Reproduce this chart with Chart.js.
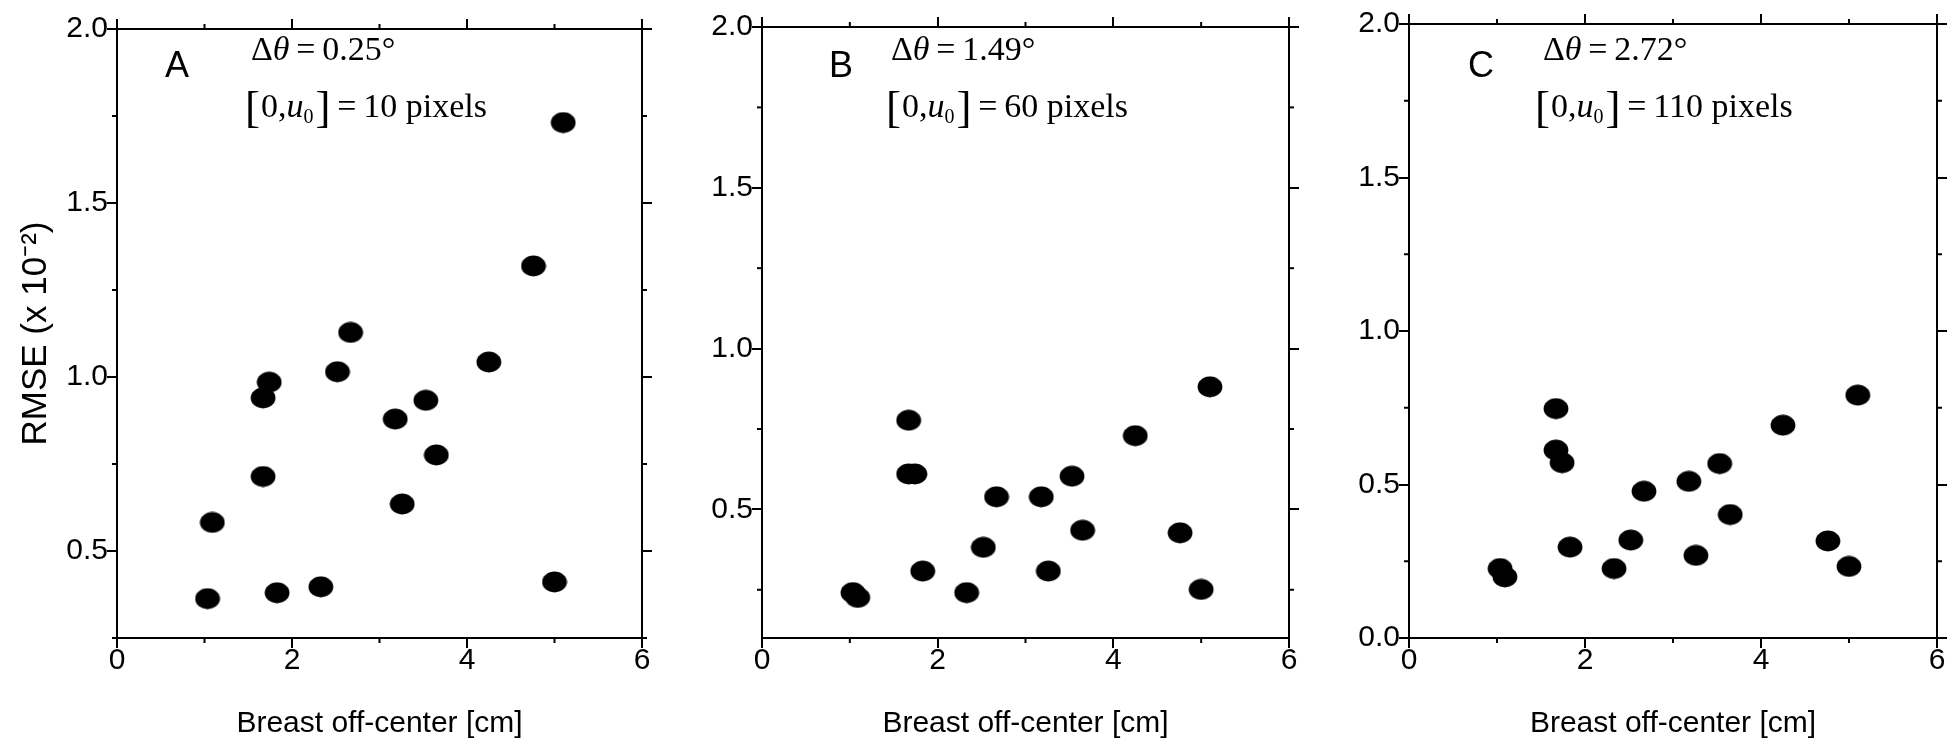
<!DOCTYPE html>
<html><head><meta charset="utf-8">
<script src="https://cdn.jsdelivr.net/npm/chart.js@4.4.1/dist/chart.umd.min.js"></script>
<style>
html,body{margin:0;padding:0;background:#fff;overflow:hidden;width:1956px;height:749px;}
.panel{position:absolute;top:0;height:749px;}
canvas{display:block;}
</style></head><body>
  <div class="panel" style="left:0px;width:660px"><canvas id="cA" width="660" height="749"></canvas></div>
  <div class="panel" style="left:660px;width:650px"><canvas id="cB" width="650" height="749"></canvas></div>
  <div class="panel" style="left:1310px;width:646px"><canvas id="cC" width="646" height="749"></canvas></div>
<script>
// ---- data ----
const OFF_CENTER_CM = [1.035, 1.09, 1.67, 1.67, 1.74, 1.83, 2.33, 2.52, 2.67, 3.18, 3.26, 3.53, 3.65, 4.25, 4.76, 5.00, 5.10];
const RMSE_A = [0.363, 0.582, 0.714, 0.940, 0.985, 0.380, 0.397, 1.015, 1.128, 0.879, 0.635, 0.933, 0.776, 1.043, 1.319, 0.411, 1.731];
const RMSE_B = [0.241, 0.226, 0.610, 0.777, 0.610, 0.308, 0.241, 0.382, 0.539, 0.539, 0.308, 0.603, 0.435, 0.729, 0.427, 0.251, 0.881];
const RMSE_C = [0.226, 0.199, 0.747, 0.612, 0.571, 0.296, 0.226, 0.319, 0.478, 0.510, 0.269, 0.568, 0.402, 0.693, 0.316, 0.233, 0.791];
const X_TICKS = [0, 1, 2, 3, 4, 5, 6];
const X_MAJOR_STEP = 2;
const Y_TICKS_A = [0.25, 0.5, 0.75, 1.0, 1.25, 1.5, 1.75, 2.0];
const Y_TICKS_B = [0.25, 0.5, 0.75, 1.0, 1.25, 1.5, 1.75, 2.0];
const Y_TICKS_C = [0, 0.25, 0.5, 0.75, 1.0, 1.25, 1.5, 1.75, 2.0];
const Y_MAJOR_STEP = 0.5;
const Y_RANGES = [[0.25, 2.0], [0.1, 2.0], [0.0, 2.0]];
const X_RANGE = [0, 6];
const PANEL_LETTERS = ['A', 'B', 'C'];
const DELTA_THETA = ['0.25', '1.49', '2.72'];
const U0_PIXELS = ['10', '60', '110'];
const X_TITLE = 'Breast off-center [cm]';
const Y_TITLE = 'RMSE (x 10\u207B\u00B2)';

// ---- layout (page pixels) ----
const PANELS = [
  {id:'cA', cl:0,    cw:660, L:117,  R:642,  T:29, B:638, letterDx:48, eqDx:134, brDx:128},
  {id:'cB', cl:660,  cw:650, L:762,  R:1289, T:27, B:638, letterDx:67, eqDx:129, brDx:124},
  {id:'cC', cl:1310, cw:646, L:1409, R:1937, T:24, B:638, letterDx:59, eqDx:134, brDx:126}
];
const SANS = '"Liberation Sans", Arial, Helvetica, sans-serif';
const SERIF = '"Liberation Serif", "Times New Roman", Times, serif';

function isMult(v, step){ const r = v/step; return Math.abs(r - Math.round(r)) < 1e-6; }

// elliptical dot marker
const DOT = (() => {
  const c = document.createElement('canvas'); c.width = 26; c.height = 22;
  const g = c.getContext('2d'); g.fillStyle = '#000';
  g.beginPath(); g.ellipse(13, 11, 12.4, 10.4, 0, 0, Math.PI * 2); g.fill();
  return c;
})();

const minorTicks = {
  id: 'minorTicks',
  afterDraw(chart) {
    const ctx = chart.ctx;
    ctx.save();
    ctx.strokeStyle = '#000'; ctx.lineWidth = 2;
    Object.values(chart.scales).forEach(sc => {
      const horiz = sc.isHorizontal();
      const major = horiz ? X_MAJOR_STEP : Y_MAJOR_STEP;
      const minor = horiz ? 1 : 0.25;
      const len = 5;
      sc.ticks.forEach((t, i) => {
        const v = t.value;
        if (isMult(v, major) || !isMult(v, minor)) return;
        const p = sc.getPixelForTick(i);
        ctx.beginPath();
        if (sc.position === 'bottom') { ctx.moveTo(p, sc.top); ctx.lineTo(p, sc.top + len); }
        else if (sc.position === 'top') { ctx.moveTo(p, sc.bottom); ctx.lineTo(p, sc.bottom - len); }
        else if (sc.position === 'left') { ctx.moveTo(sc.right, p); ctx.lineTo(sc.right - len, p); }
        else { ctx.moveTo(sc.left, p); ctx.lineTo(sc.left + len, p); }
        ctx.stroke();
      });
    });
    ctx.restore();
  }
};

function seg(ctx, txt, font, x, y) {
  ctx.font = font; ctx.fillText(txt, x, y); return x + ctx.measureText(txt).width;
}

const panelText = {
  id: 'panelText',
  afterDraw(chart, args, o) {
    const ctx = chart.ctx, L = chart.chartArea.left;
    ctx.save();
    ctx.fillStyle = '#000'; ctx.textAlign = 'left'; ctx.textBaseline = 'alphabetic';
    ctx.font = '36px ' + SANS;
    ctx.fillText(o.letter, L + o.letterDx, 77);
    const F = 34;
    const up = F + 'px ' + SERIF, it = 'italic ' + F + 'px ' + SERIF;
    const big = '45px ' + SERIF, sub = '20px ' + SERIF;
    const th = '\u2009';
    let x = L + o.eqDx; const y1 = 60;
    x = seg(ctx, '\u0394', up, x, y1);
    x = seg(ctx, '\u03B8', it, x, y1);
    x = seg(ctx, th + '=' + th, up, x, y1);
    seg(ctx, o.dtheta + '\u00B0', up, x, y1);
    x = L + o.brDx; const y2 = 117;
    x = seg(ctx, '[', big, x, y2 + 5);
    x = seg(ctx, '0,', up, x + 1, y2);
    x = seg(ctx, 'u', it, x, y2);
    x = seg(ctx, '0', sub, x, y2 + 6);
    x = seg(ctx, ']', big, x + 2, y2 + 5);
    seg(ctx, th + '=' + th + o.u0 + ' pixels', up, x, y2);
    ctx.restore();
  }
};

function xScale(pos, show, h) {
  return {
    type: 'linear', position: pos, min: X_RANGE[0], max: X_RANGE[1],
    afterBuildTicks: sc => { sc.ticks = X_TICKS.map(v => ({value: v})); },
    afterFit: sc => { sc.height = h; },
    ticks: {
      display: show, color: '#000', padding: -2, maxRotation: 0, autoSkip: false,
      font: {family: SANS, size: 30, lineHeight: 1.0},
      callback: v => isMult(v, X_MAJOR_STEP) ? String(v) : ''
    },
    grid: {
      drawOnChartArea: false, drawTicks: true, tickLength: 10, tickWidth: 2, lineWidth: 2,
      tickColor: c => (c.tick && isMult(c.tick.value, X_MAJOR_STEP)) ? '#000' : 'rgba(0,0,0,0)',
      color: 'rgba(0,0,0,0)'
    },
    border: {display: true, color: '#000', width: 2},
    title: {display: show, text: X_TITLE, color: '#000', font: {family: SANS, size: 30}, padding: {top: 0, bottom: 7}}
  };
}
function yScale(pos, show, w, ticks, range, withTitle) {
  return {
    type: 'linear', position: pos, min: range[0], max: range[1],
    afterBuildTicks: sc => { sc.ticks = ticks.map(v => ({value: v})); },
    afterFit: sc => { sc.width = w; },
    ticks: {
      display: show, color: '#000', padding: -1, autoSkip: false,
      font: {family: SANS, size: 30, lineHeight: 1.0},
      callback: v => isMult(v, Y_MAJOR_STEP) ? Number(v).toFixed(1) : ''
    },
    grid: {
      drawOnChartArea: false, drawTicks: true, tickLength: 10, tickWidth: 2, lineWidth: 2,
      tickColor: c => (c.tick && isMult(c.tick.value, Y_MAJOR_STEP)) ? '#000' : 'rgba(0,0,0,0)',
      color: 'rgba(0,0,0,0)'
    },
    border: {display: true, color: '#000', width: 2},
    title: {display: !!withTitle, text: Y_TITLE, color: '#000', font: {family: SANS, size: 35}, padding: {top: 15, bottom: 0}}
  };
}

const SERIES = [RMSE_A, RMSE_B, RMSE_C];
const YTICKS = [Y_TICKS_A, Y_TICKS_B, Y_TICKS_C];

PANELS.forEach((p, k) => {
  const leftW = p.L - p.cl;
  const rightW = p.cw - (p.R - p.cl);
  new Chart(document.getElementById(p.id), {
    type: 'scatter',
    data: {
      datasets: [{
        label: 'Panel ' + PANEL_LETTERS[k],
        data: OFF_CENTER_CM.map((x, i) => ({x: x, y: SERIES[k][i]})),
        backgroundColor: '#000', borderWidth: 0, pointRadius: 11, pointHoverRadius: 11, pointStyle: DOT
      }]
    },
    options: {
      responsive: false, animation: false, devicePixelRatio: 1, events: [],
      layout: {padding: 0},
      plugins: {
        legend: {display: false}, tooltip: {enabled: false},
        panelText: {letter: PANEL_LETTERS[k], dtheta: DELTA_THETA[k], u0: U0_PIXELS[k],
                    letterDx: p.letterDx, eqDx: p.eqDx, brDx: p.brDx}
      },
      scales: {
        x: xScale('bottom', true, 749 - p.B),
        x2: xScale('top', false, p.T),
        y: yScale('left', true, leftW, YTICKS[k], Y_RANGES[k], k === 0),
        y2: yScale('right', false, rightW, YTICKS[k], Y_RANGES[k], false)
      }
    },
    plugins: [minorTicks, panelText]
  });
});
</script>
</body></html>
